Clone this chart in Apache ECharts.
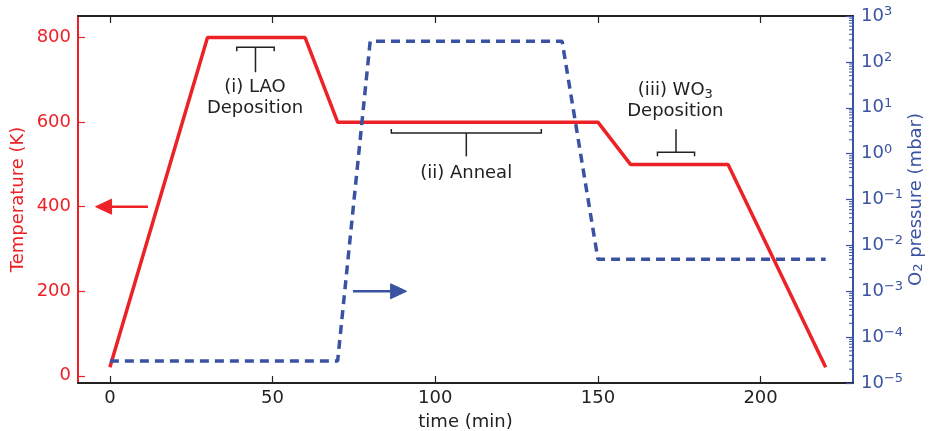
<!DOCTYPE html>
<html>
<head>
<meta charset="utf-8">
<script src="https://cdn.jsdelivr.net/npm/echarts@6/dist/echarts.min.js"></script>
<style>
html,body{margin:0;padding:0;background:#fff;}
#c{width:930px;height:431px;}
</style>
</head>
<body>
<div id="c"></div>
<script>
// ---- data ----
const timeMin = [0, 30, 60, 70, 150, 160, 190, 220];
const temperatureK = [20, 800, 800, 600, 600, 500, 500, 20];
const pressureTime = [0, 70, 80, 139, 150, 220];
const pressureMbar = [3e-5, 3e-5, 280, 280, 5e-3, 5e-3];
const xTicks = [0, 50, 100, 150, 200];
const tempTicks = [0, 200, 400, 600, 800];
const pressureDecades = [-5, -4, -3, -2, -1, 0, 1, 2, 3];

// annotations (data coordinates)
const annotationTexts = ['(i) LAO\nDeposition', '(ii) Anneal', '(iii) WO{sub|3}\nDeposition'];
const annotationPos = [[44.6, 657], [109.5, 479], [173.8, 650]];
// [xStart, xEnd, barY, stemEndY, capDir]
const brackets = [[39, 50.5, 777, 718, 1], [86.5, 132.6, 574, 519, -1], [168.3, 179.7, 529, 583, 1]];
// [xTail, yTail, xTip, yTip, colorIdx]
const arrows = [[11.7, 400, -4.4, 400, 0], [74.7, 200, 91.2, 200, 1]];

const RED = '#ec2227';
const BLUE = '#3a52a2';
const DARK = '#222222';
const FONT = 'DejaVu Sans';

const minorVals = [];
for (let i = 0; i < pressureDecades.length - 1; i++) {
  for (let m = 2; m <= 9; m++) minorVals.push([0, m * Math.pow(10, pressureDecades[i])]);
}

const chart = echarts.init(document.getElementById('c'), null, {renderer: 'canvas'});

const X_MIN = -9.8, X_MAX = 228.4;

function supLabel(v) {
  const e = Math.round(Math.log10(v));
  const s = e < 0 ? '\u2212' + (-e) : '' + e;
  return '{b|10}{s|' + s + '}';
}

const option = {
  animation: false,
  grid: {left: 78, right: 77, top: 16, bottom: 48, containLabel: false, outerBoundsMode: 'none'},
  xAxis: [{
    type: 'value', min: X_MIN, max: X_MAX, position: 'bottom',
    name: 'time (min)', nameLocation: 'middle', nameGap: 30, nameMoveOverlap: false,
    nameTextStyle: {fontFamily: FONT, fontSize: 18, color: DARK},
    axisLine: {show: true, onZero: false, lineStyle: {color: DARK, width: 2}},
    axisTick: {show: true, inside: true, length: 7, lineStyle: {color: DARK, width: 1.2}, customValues: xTicks},
    axisLabel: {show: true, margin: 6, fontFamily: FONT, fontSize: 18, color: DARK, customValues: xTicks},
    splitLine: {show: false}
  }, {
    type: 'value', min: X_MIN, max: X_MAX, position: 'top',
    axisLine: {show: true, onZero: false, lineStyle: {color: DARK, width: 2}},
    axisTick: {show: true, inside: true, length: 7, lineStyle: {color: DARK, width: 1.2}, customValues: xTicks},
    axisLabel: {show: false},
    splitLine: {show: false}
  }],
  yAxis: [{
    type: 'value', min: -17, max: 851, position: 'left',
    name: 'Temperature (K)', nameLocation: 'middle', nameGap: 51, nameRotate: 90, nameMoveOverlap: false,
    nameTextStyle: {fontFamily: FONT, fontSize: 18, color: RED},
    axisLine: {show: true, onZero: false, lineStyle: {color: RED, width: 2}},
    axisTick: {show: true, inside: true, length: 7, lineStyle: {color: RED, width: 1.2}, customValues: tempTicks},
    axisLabel: {show: true, margin: 7, fontFamily: FONT, fontSize: 18, color: RED, customValues: tempTicks},
    splitLine: {show: false}
  }, {
    type: 'log', logBase: 10, min: 1e-5, max: 1e3, interval: 1, position: 'right',
    name: 'O{sub|2} pressure (mbar)', nameLocation: 'middle', nameGap: 54, nameRotate: 90, nameMoveOverlap: false,
    nameTextStyle: {fontFamily: FONT, fontSize: 18, color: BLUE,
      rich: {sub: {fontFamily: FONT, fontSize: 13, color: BLUE, verticalAlign: 'bottom', lineHeight: 12}}},
    axisLine: {show: true, onZero: false, lineStyle: {color: BLUE, width: 2}},
    axisTick: {show: true, inside: true, length: 7, lineStyle: {color: BLUE, width: 1.2}},
    axisLabel: {show: true, margin: 8, formatter: supLabel,
      rich: {
        b: {fontFamily: FONT, fontSize: 18, color: BLUE, lineHeight: 22},
        s: {fontFamily: FONT, fontSize: 13, color: BLUE, lineHeight: 14, verticalAlign: 'top'}
      }},
    splitLine: {show: false}
  }],
  series: [
    {
      type: 'line', xAxisIndex: 0, yAxisIndex: 0, name: 'Temperature',
      data: timeMin.map((t, i) => [t, temperatureK[i]]),
      showSymbol: false, symbol: 'none',
      lineStyle: {color: RED, width: 3.5}, z: 3
    },
    {
      type: 'line', xAxisIndex: 0, yAxisIndex: 1, name: 'O2 pressure',
      data: pressureTime.map((t, i) => [t, pressureMbar[i]]),
      showSymbol: false, symbol: 'none',
      lineStyle: {color: BLUE, width: 3.5, type: [9, 6]}, z: 4
    },
    {
      type: 'custom', xAxisIndex: 0, yAxisIndex: 1, silent: true, clip: false, z: 5,
      data: minorVals,
      renderItem: function (params, api) {
        const p = api.coord([X_MAX, api.value(1)]);
        return {type: 'line', shape: {x1: p[0] - 4, y1: p[1], x2: p[0], y2: p[1]},
          style: {stroke: BLUE, lineWidth: 1}};
      }
    },
    {
      type: 'custom', xAxisIndex: 0, yAxisIndex: 0, silent: true, clip: false, z: 6,
      data: brackets,
      renderItem: function (params, api) {
        const b = brackets[params.dataIndex];
        const p1 = api.coord([b[0], b[2]]);
        const p2 = api.coord([b[1], b[2]]);
        const pm = api.coord([(b[0] + b[1]) / 2, b[2]]);
        const ps = api.coord([(b[0] + b[1]) / 2, b[3]]);
        const cap = 4 * b[4];
        return {type: 'group', children: [
          {type: 'polyline', shape: {points: [[p1[0], p1[1] + cap], p1, p2, [p2[0], p2[1] + cap]]},
            style: {stroke: DARK, lineWidth: 1.5, fill: null}},
          {type: 'line', shape: {x1: pm[0], y1: pm[1], x2: ps[0], y2: ps[1]},
            style: {stroke: DARK, lineWidth: 1.5}}
        ]};
      }
    },
    {
      type: 'custom', xAxisIndex: 0, yAxisIndex: 0, silent: true, clip: false, z: 6,
      data: annotationPos,
      renderItem: function (params, api) {
        const a = annotationPos[params.dataIndex];
        const p = api.coord(a);
        return {type: 'text', x: p[0], y: p[1], style: {
          text: annotationTexts[params.dataIndex],
          fontFamily: FONT, fontSize: 18, fill: DARK, lineHeight: 21,
          align: 'center', verticalAlign: 'middle',
          rich: {sub: {fontFamily: FONT, fontSize: 13, fill: DARK, verticalAlign: 'bottom', lineHeight: 13}}
        }};
      }
    },
    {
      type: 'custom', xAxisIndex: 0, yAxisIndex: 0, silent: true, clip: false, z: 6,
      data: arrows,
      renderItem: function (params, api) {
        const a = arrows[params.dataIndex];
        const col = a[4] === 0 ? RED : BLUE;
        const t = api.coord([a[0], a[1]]);
        const h = api.coord([a[2], a[3]]);
        const dx = h[0] - t[0], dy = h[1] - t[1];
        const len = Math.sqrt(dx * dx + dy * dy);
        const ux = dx / len, uy = dy / len;
        const hl = 16, hw = 7.5;
        const bx = h[0] - ux * hl, by = h[1] - uy * hl;
        return {type: 'group', children: [
          {type: 'line', shape: {x1: t[0], y1: t[1], x2: bx + ux * 2, y2: by + uy * 2},
            style: {stroke: col, lineWidth: 2.5}},
          {type: 'polygon', shape: {points: [h, [bx - uy * hw, by + ux * hw], [bx + uy * hw, by - ux * hw]]},
            style: {fill: col, stroke: col, lineWidth: 1}}
        ]};
      }
    }
  ]
};
chart.setOption(option);
</script>
</body>
</html>
